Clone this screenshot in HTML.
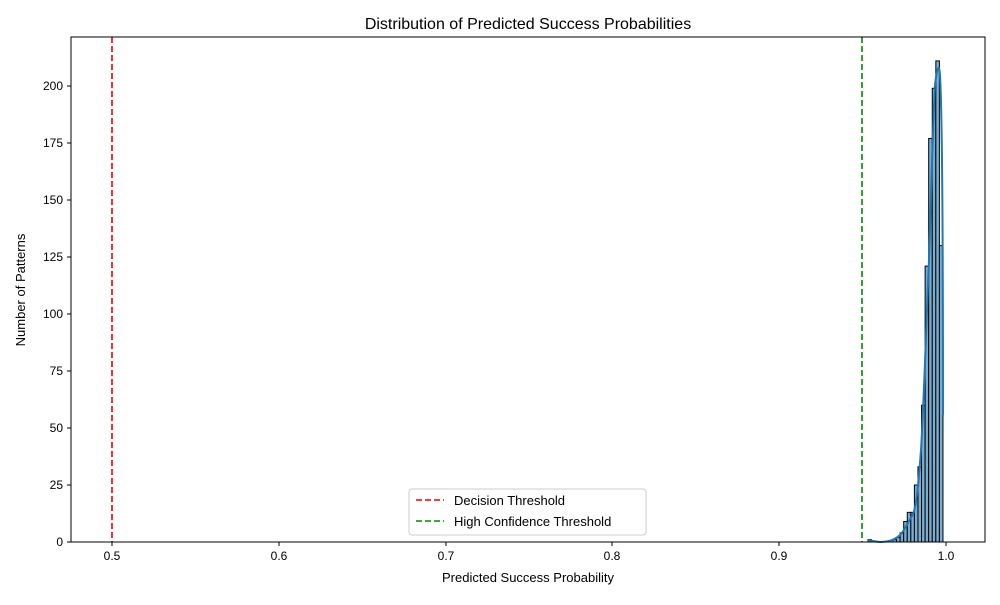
<!DOCTYPE html>
<html><head><style>body{margin:0;background:#fff}svg{font-family:"Liberation Sans","DejaVu Sans",sans-serif}</style></head><body>
<svg width="1000" height="600" xmlns="http://www.w3.org/2000/svg">
<rect width="1000" height="600" fill="#fff"/>
<g fill="#7aaed1" stroke="#000" stroke-width="1">
<rect x="868" y="539.72" width="3.57" height="2.28"/>
<rect x="892.99" y="539.72" width="3.57" height="2.28"/>
<rect x="896.56" y="537.44" width="3.57" height="4.56"/>
<rect x="900.13" y="532.88" width="3.57" height="9.12"/>
<rect x="903.70" y="521.48" width="3.57" height="20.52"/>
<rect x="907.27" y="512.36" width="3.57" height="29.64"/>
<rect x="910.84" y="512.36" width="3.57" height="29.64"/>
<rect x="914.41" y="485" width="3.57" height="57"/>
<rect x="917.98" y="466.76" width="3.57" height="75.24"/>
<rect x="921.55" y="405.2" width="3.57" height="136.8"/>
<rect x="925.12" y="266.12" width="3.57" height="275.88"/>
<rect x="928.69" y="138.44" width="3.57" height="403.56"/>
<rect x="932.26" y="88.28" width="3.57" height="453.72"/>
<rect x="935.83" y="60.92" width="3.57" height="481.08"/>
<rect x="939.40" y="245.6" width="3.57" height="296.4"/>
</g>
<path d="M868,541 C872,540 875,542 880,542 C888,542 895,540 900,535 C905,530 908,522 912,516 C916,510 918,490 921,450 C924,400 926,330 929,260 C931,200 933,120 935,85 C937,68 939,62 940,75 C942,110 943,200 943,415" fill="none" stroke="#1f77b4" stroke-width="2"/>
<line x1="112" y1="37" x2="112" y2="542" stroke="#e00" stroke-width="1.6" stroke-dasharray="6,3"/>
<line x1="862" y1="37" x2="862" y2="542" stroke="#080" stroke-width="1.6" stroke-dasharray="6,3"/>
<rect x="71" y="37" width="914" height="505" fill="none" stroke="#000" stroke-width="1"/>
<g font-size="12" fill="#000" text-anchor="middle">
<g stroke="#000"><line x1="112" y1="542" x2="112" y2="546"/><line x1="279" y1="542" x2="279" y2="546"/><line x1="446" y1="542" x2="446" y2="546"/><line x1="612" y1="542" x2="612" y2="546"/><line x1="779" y1="542" x2="779" y2="546"/><line x1="946" y1="542" x2="946" y2="546"/></g>
<text x="112" y="560">0.5</text><text x="279" y="560">0.6</text><text x="446" y="560">0.7</text><text x="612" y="560">0.8</text><text x="779" y="560">0.9</text><text x="946" y="560">1.0</text>
<text x="528" y="582" font-size="13">Predicted Success Probability</text>
</g>
<g font-size="12" text-anchor="end">
<g stroke="#000"><line x1="67" y1="542" x2="71" y2="542"/><line x1="67" y1="485" x2="71" y2="485"/><line x1="67" y1="428" x2="71" y2="428"/><line x1="67" y1="371" x2="71" y2="371"/><line x1="67" y1="314" x2="71" y2="314"/><line x1="67" y1="257" x2="71" y2="257"/><line x1="67" y1="200" x2="71" y2="200"/><line x1="67" y1="143" x2="71" y2="143"/><line x1="67" y1="86" x2="71" y2="86"/></g>
<text x="63" y="546">0</text><text x="63" y="489">25</text><text x="63" y="432">50</text><text x="63" y="375">75</text><text x="63" y="318">100</text><text x="63" y="261">125</text><text x="63" y="204">150</text><text x="63" y="147">175</text><text x="63" y="90">200</text>
</g>
<text transform="translate(25,290) rotate(-90)" font-size="13" text-anchor="middle">Number of Patterns</text>
<text x="528" y="29" font-size="16" text-anchor="middle">Distribution of Predicted Success Probabilities</text>
<rect x="409" y="489" width="237" height="46" rx="3" fill="#fff" stroke="#ccc"/>
<line x1="416" y1="500" x2="444" y2="500" stroke="#e00" stroke-width="1.6" stroke-dasharray="6,3"/>
<line x1="416" y1="521" x2="444" y2="521" stroke="#080" stroke-width="1.6" stroke-dasharray="6,3"/>
<text x="454" y="505" font-size="13">Decision Threshold</text>
<text x="454" y="526" font-size="13">High Confidence Threshold</text>
</svg>
</body></html>
